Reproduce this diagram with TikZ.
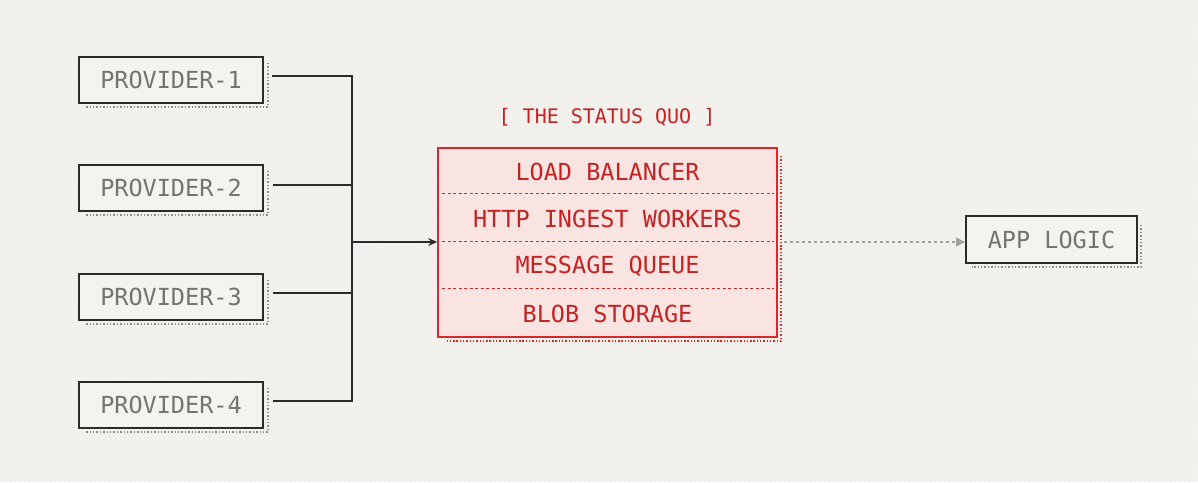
\documentclass[tikz,border=0pt]{standalone}
\usepackage{fontspec}
\newfontfamily\monof{DejaVu Sans Mono}
\usetikzlibrary{arrows.meta,calc,patterns.meta}
\definecolor{bgc}{HTML}{F2F1EE}
\definecolor{bgdot}{HTML}{E6E5E1}
\definecolor{boxfill}{HTML}{F4F3F0}
\definecolor{boxline}{HTML}{2B2B2B}
\definecolor{graytext}{HTML}{74736C}
\definecolor{shadowgray}{HTML}{8E8C85}
\definecolor{redline}{HTML}{D42A2A}
\definecolor{redtext}{HTML}{C42323}
\definecolor{pinkfill}{HTML}{F9E4E2}
\definecolor{arrowgray}{HTML}{A3A199}
\tikzset{
  provbox/.style={draw=boxline, fill=boxfill, line width=2pt, minimum width=184pt, minimum height=46pt, inner sep=0pt,
    font=\monof\fontsize{23.5}{26}\selectfont, text=graytext},
  appbox/.style={provbox, minimum width=171pt, minimum height=47pt},
  stackbox/.style={draw=redline, fill=pinkfill, line width=1.6pt, minimum width=339pt, minimum height=189pt, inner sep=0pt},
  rowtext/.style={font=\monof\fontsize{23.5}{26}\selectfont, text=redtext, inner sep=0pt},
  titletext/.style={font=\monof\fontsize{20}{22}\selectfont, text=redtext, inner sep=0pt},
  shadowline/.style={draw=shadowgray, line width=1.9pt, dash pattern=on 1.4pt off 2pt},
  redshadow/.style={draw=redline, line width=2.1pt, dash pattern=on 1.4pt off 1.9pt},
  divider/.style={draw=redline, line width=1.3pt, dash pattern=on 3pt off 2.5pt},
  conn/.style={draw=boxline, line width=1.6pt},
  dotarrow/.style={draw=arrowgray, line width=1.6pt, dash pattern=on 3pt off 3pt, -{Triangle[length=9pt,width=9pt]}}
}
\begin{document}
\begin{tikzpicture}[x=1pt,y=-1pt]
\fill[bgc] (0,0) rectangle (1198,482);
\fill[pattern={Dots[distance=5pt,radius=0.7pt]}, pattern color=bgdot] (0,0) rectangle (1198,482);
\useasboundingbox (0,0) rectangle (1198,482);

% provider boxes with shadows
\foreach \i/\yy in {1/80,2/188,3/297,4/405}{
  \draw[shadowline] (268,\yy-17) -- (268,\yy+27) -- (85,\yy+27);
}
\node[provbox] (p1) at (171,80) {PROVIDER-1};
\node[provbox] (p2) at (171,188) {PROVIDER-2};
\node[provbox] (p3) at (171,297) {PROVIDER-3};
\node[provbox] (p4) at (171,405) {PROVIDER-4};

% status quo stack
\node[titletext] (title) at (607,117) {[ THE STATUS QUO ]};
\draw[redshadow] (781,156) -- (781,341) -- (445,341);
\node[stackbox] (stack) at (607.5,242.5) {};
\node[rowtext] (lb) at (607.5,172) {LOAD BALANCER};
\node[rowtext] (http) at (607.5,219) {HTTP INGEST WORKERS};
\node[rowtext] (mq) at (607.5,266) {MESSAGE QUEUE};
\node[rowtext] (blob) at (607.5,314) {BLOB STORAGE};
\draw[divider] ($(stack.north west)+(5,46)$) -- ($(stack.north east)+(-4,46)$);
\draw[divider] ($(stack.north west)+(5,94)$) -- ($(stack.north east)+(-4,94)$);
\draw[divider] ($(stack.north west)+(5,141)$) -- ($(stack.north east)+(-4,141)$);

% app logic
\draw[shadowline] (1141,225) -- (1141,267) -- (972,267);
\node[appbox] (app) at (1051.5,239.5) {APP LOGIC};

% connectors
\coordinate (j) at (352,242);
\draw[conn] ($(p1.east)+(8,-4)$) -| (j);
\draw[conn] ($(p2.east)+(9,-3)$) -| (j);
\draw[conn] ($(p3.east)+(9,-4)$) -| (j);
\draw[conn] ($(p4.east)+(9,-4)$) -| (j);
\draw[conn,-{Stealth[length=9pt,width=8pt]}] (j) -- (stack.west |- j);
\draw[dotarrow] ($(stack.east |- j)+(6,0)$) -- (app.west |- j);
\end{tikzpicture}
\end{document}
